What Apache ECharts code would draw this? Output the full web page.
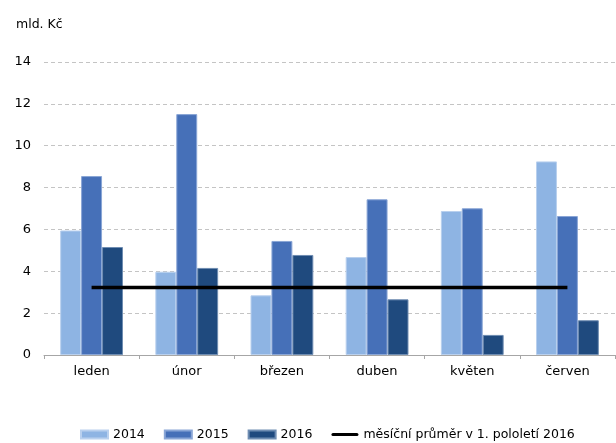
<!DOCTYPE html>
<html>
<head>
<meta charset="utf-8">
<script src="https://cdn.jsdelivr.net/npm/echarts@6/dist/echarts.min.js"></script>
<style>html,body{margin:0;padding:0;background:#fff}#c{width:616px;height:443px}</style>
</head>
<body>
<div id="c"></div>
<script>
const categories = ['leden', 'únor', 'březen', 'duben', 'květen', 'červen'];
const values2014 = [5.95, 3.98, 2.85, 4.68, 6.88, 9.25];
const values2015 = [8.55, 11.51, 5.45, 7.44, 7.01, 6.64];
const values2016 = [5.16, 4.16, 4.78, 2.66, 0.96, 1.66];
const averageValues = [3.22, 3.22, 3.22, 3.22, 3.22, 3.22];
const seriesNames = ['2014', '2015', '2016', 'měsíční průměr v 1. pololetí 2016'];
const unitLabel = 'mld. Kč';

const FONT = 'DejaVu Sans';
const chart = echarts.init(document.getElementById('c'), null, {renderer: 'canvas'});
const barCommon = {
  type: 'bar',
  barGap: '0%',
  barCategoryGap: '34%',
  animation: false
};
chart.setOption({
  animation: false,
  textStyle: {fontFamily: FONT},
  title: {
    text: unitLabel, left: 11, top: 13,
    textStyle: {fontFamily: FONT, fontSize: 12.5, fontWeight: 'normal', color: '#000'}
  },
  grid: {left: 44, right: 1, top: 62, bottom: 88, containLabel: false},
  legend: {
    left: 80, top: 428, padding: 0,
    itemWidth: 27, itemHeight: 8, itemGap: 19,
    textStyle: {fontFamily: FONT, fontSize: 12.5, color: '#000'},
    data: [
      {name: seriesNames[0], icon: 'rect'},
      {name: seriesNames[1], icon: 'rect'},
      {name: seriesNames[2], icon: 'rect'},
      {name: seriesNames[3], icon: 'path://M1.5,0 L25.5,0 A1.5,1.5 0 0 1 25.5,3 L1.5,3 A1.5,1.5 0 0 1 1.5,0 Z', itemStyle: {color: '#000'}}
    ]
  },
  xAxis: {
    type: 'category', data: categories,
    axisLine: {lineStyle: {color: '#a6a6a6', width: 1}},
    axisTick: {show: true, length: 4, lineStyle: {color: '#a6a6a6'}},
    axisLabel: {fontFamily: FONT, fontSize: 13, color: '#000', margin: 10}
  },
  yAxis: {
    type: 'value', min: 0, max: 14, interval: 2,
    axisLine: {show: false}, axisTick: {show: false},
    axisLabel: {fontFamily: FONT, fontSize: 13, color: '#000', margin: 13},
    splitLine: {lineStyle: {color: '#c4c4c4', type: [4, 3], width: 1}}
  },
  series: [
    Object.assign({}, barCommon, {name: seriesNames[0], data: values2014,
      itemStyle: {color: '#8eb4e3', borderColor: '#b9d0ee', borderWidth: 1}}),
    Object.assign({}, barCommon, {name: seriesNames[1], data: values2015,
      itemStyle: {color: '#4670b8', borderColor: '#8aa6d6', borderWidth: 1}}),
    Object.assign({}, barCommon, {name: seriesNames[2], data: values2016,
      itemStyle: {color: '#1f4a7e', borderColor: '#6f8db2', borderWidth: 1}}),
    {type: 'line', name: seriesNames[3], data: averageValues, symbol: 'none',
      lineStyle: {color: '#000', width: 3.5}, itemStyle: {color: '#000'}, z: 5}
  ]
});
</script>
</body>
</html>
